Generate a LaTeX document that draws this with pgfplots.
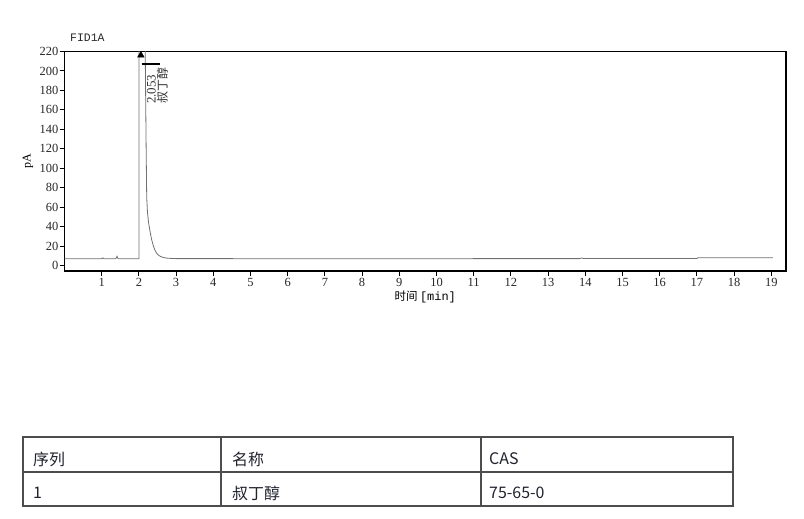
\documentclass[border=0pt]{standalone}
\usepackage{pgfplots}
\pgfplotsset{compat=1.18}
\usepackage{fontspec}
\setmainfont{Liberation Serif}
\newfontfamily\cjk{Noto Sans CJK SC}
\newfontfamily\mono{Liberation Mono}
\definecolor{trace}{HTML}{707070}
\definecolor{tline}{HTML}{4D4D4D}
\definecolor{ttext}{HTML}{20222E}
\begin{document}
\begin{tikzpicture}
\useasboundingbox (0,0) rectangle (804bp,-519bp);
\begin{axis}[
  at={(64.5bp,-271bp)}, anchor=south west,
  scale only axis, width=721.5bp, height=219.5bp,
  xmin=0, xmax=19.395, ymin=-5.65, ymax=220,
  xtick={1,2,...,19}, ytick={0,20,...,220},
  tick align=outside, tick pos=left,
  major tick length=5bp,
  axis line style={line width=1.3bp, black},
  every tick/.style={black, line width=1bp},
  /pgf/number format/assume math mode=true,
  ticklabel style={font=\fontsize{12.5}{12.5}\selectfont, text=black!85},
  yticklabel style={inner xsep=1bp},
  xticklabel style={inner ysep=2bp},
  xlabel={{\cjk\fontsize{11.5}{11.5}\selectfont 时间} {\mono\fontsize{12}{12}\selectfont [min]}},
  xlabel style={at={(axis description cs:0.5,-0.118)}, anchor=center},
  ylabel={\fontsize{12}{12}\selectfont pA},
  ylabel style={at={(axis description cs:-0.0506,0.5)}, anchor=center},
]
\addplot[trace, line width=0.8bp] coordinates {
(0,7) (1.00,7) (1.03,7.8) (1.06,7) (1.38,7) (1.41,9.5) (1.44,7) (1.99,7)
(2.000,7) (2.003,240) (2.053,400) (2.165,240) (2.18,180) (2.195,120)
(2.21,70) (2.23,55) (2.26,44) (2.30,35) (2.34,27) (2.39,20) (2.44,15)
(2.50,11.5) (2.57,9.5) (2.65,8.3) (2.75,7.6) (2.90,7.2) (3.00,7.1)
(6,7.0) (10,7.0) (12,7.1) (13.85,7.1) (13.9,7.8) (13.95,7.2) (17.0,7.2) (17.02,7.9) (19.04,7.9)
};
\addplot[black, only marks, mark=triangle*, mark size=3.8bp] coordinates {(2.053,216.2)};
\addplot[black, line width=1.4bp] coordinates {(2.07,207) (2.57,207)};
\node[rotate=90, anchor=north west, inner sep=0pt, align=left, text=black!80,
      font=\fontsize{13}{11.5}\selectfont] at (axis cs:2.21,166)
  {2.053\\{\cjk\fontsize{12}{11.5}\selectfont 叔丁醇}};
\end{axis}
\node[anchor=west, inner sep=0pt, font=\mono\fontsize{11.5}{11.5}\selectfont, text=black!85] at (70bp,-38bp) {FID1A};
% table
\draw[tline, line width=1.4bp] (23bp,-437bp) rectangle (733bp,-506bp);
\draw[tline, line width=1.4bp] (23bp,-472bp) -- (733bp,-472bp);
\draw[tline, line width=1.4bp] (221bp,-437bp) -- (221bp,-506bp);
\draw[tline, line width=1.4bp] (481bp,-437bp) -- (481bp,-506bp);
\begin{scope}[every node/.style={anchor=west, inner sep=0pt, text=ttext, font=\cjk\fontsize{16}{16}\selectfont}]
\node at (33bp,-459bp) {序列};
\node at (232bp,-459bp) {名称};
\node at (489bp,-459bp) {CAS};
\node at (33bp,-493bp) {1};
\node at (232bp,-493bp) {叔丁醇};
\node at (489bp,-493bp) {75-65-0};
\end{scope}
\end{tikzpicture}
\end{document}
